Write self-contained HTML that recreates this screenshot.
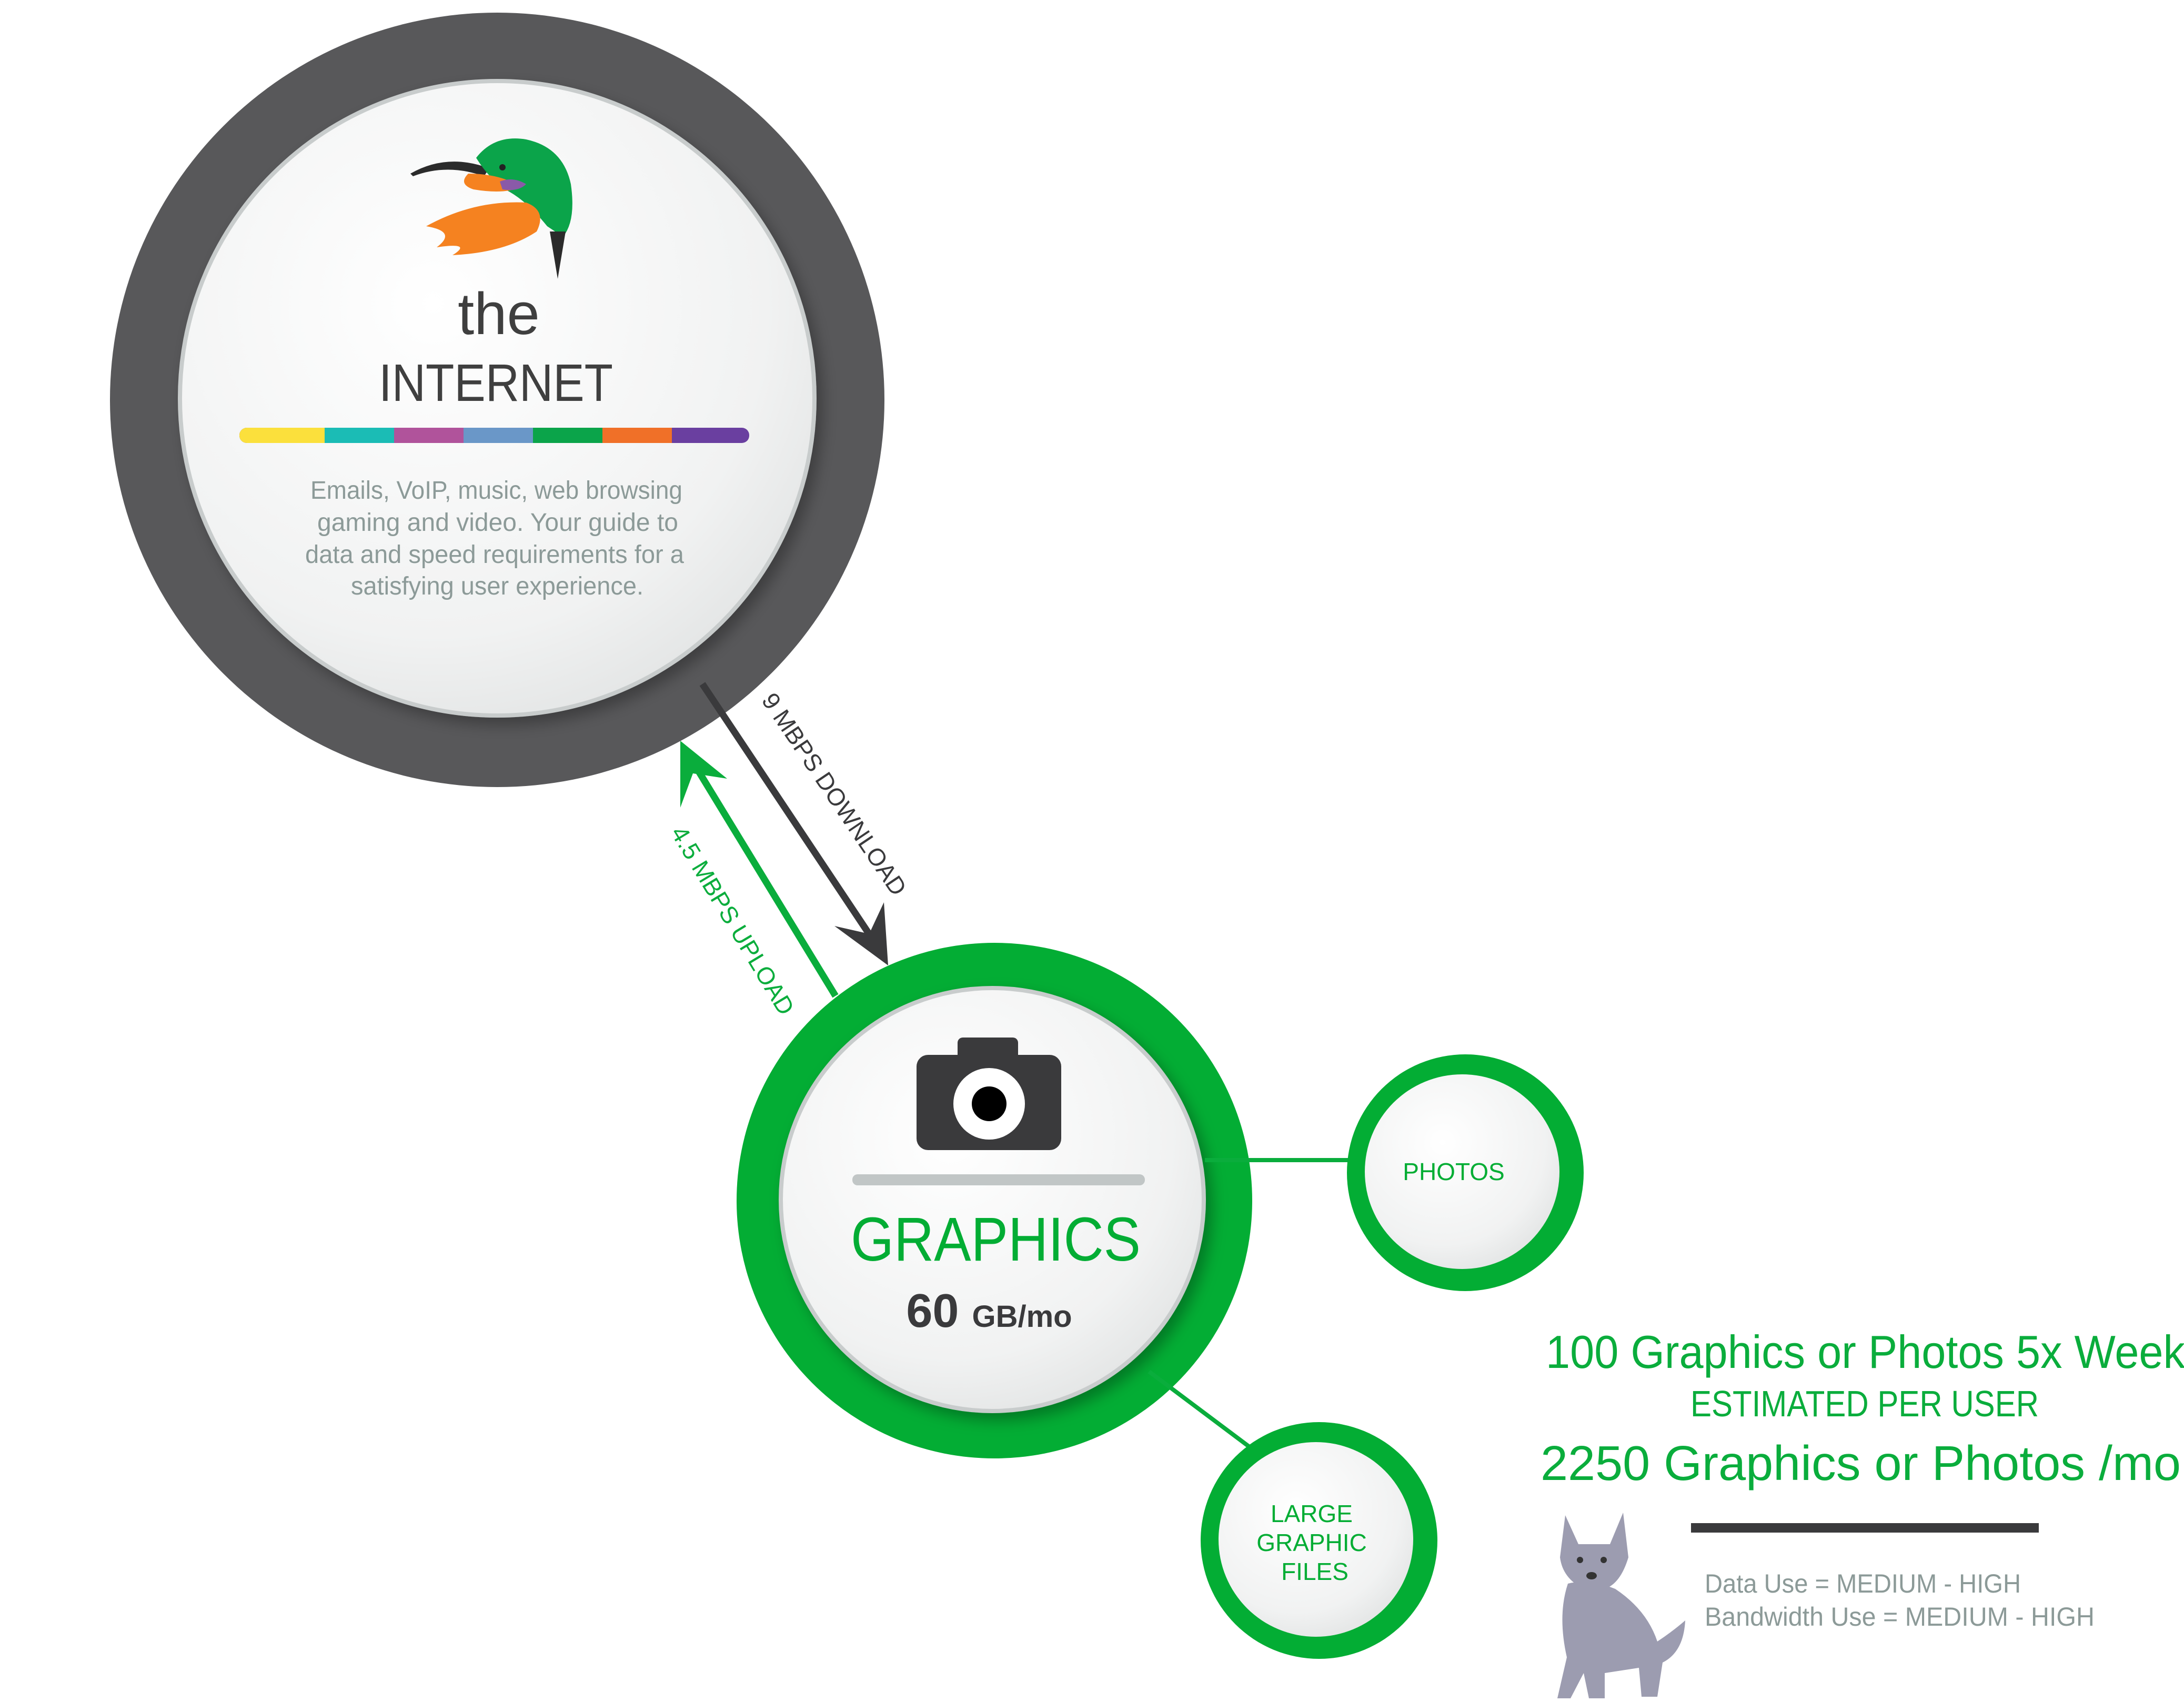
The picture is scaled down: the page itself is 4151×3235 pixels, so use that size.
<!DOCTYPE html>
<html><head><meta charset="utf-8"><style>
html,body{margin:0;padding:0;background:#fff;}
svg{display:block;}
text{font-family:"Liberation Sans",sans-serif;}
</style></head><body>
<svg width="4151" height="3235" viewBox="0 0 4151 3235" xmlns="http://www.w3.org/2000/svg">
<defs>
<radialGradient id="g1" cx="0.4" cy="0.35" r="0.75">
<stop offset="0" stop-color="#ffffff"/><stop offset="0.7" stop-color="#f1f2f2"/><stop offset="1" stop-color="#dfe1e1"/>
</radialGradient>
<filter id="sh" x="-20%" y="-20%" width="140%" height="140%"><feDropShadow dx="12" dy="14" stdDeviation="14" flood-color="#000" flood-opacity="0.3"/></filter>
</defs>

<!-- Internet circle -->
<circle cx="945" cy="760" r="736" fill="#58585a"/>
<circle cx="945" cy="757" r="603" fill="url(#g1)" stroke="#c8cccc" stroke-width="8" filter="url(#sh)"/>

<!-- bird -->
<g>
<path d="M780 330 Q850 290 930 320 L920 335 Q850 310 785 335 Z" fill="#2b2b2b"/>
<path d="M905 300 Q940 255 1000 265 Q1070 280 1085 350 Q1095 420 1070 450 L1040 430 Q1000 380 960 360 Q930 340 905 300 Z" fill="#0ba44a"/>
<path d="M890 330 Q950 330 990 355 Q960 370 900 360 Q870 350 890 330 Z" fill="#f58220"/>
<path d="M810 430 Q900 380 1000 385 Q1040 400 1020 440 Q960 480 860 485 Q900 460 830 470 Q870 440 810 430 Z" fill="#f58220"/>
<path d="M950 345 Q975 335 1000 350 Q985 365 955 360 Z" fill="#8a5aa8"/>
<path d="M1045 440 L1060 530 L1075 440 Z" fill="#2b2b2b"/>
<circle cx="955" cy="318" r="6" fill="#222"/>
</g>

<text x="948" y="635" font-size="112" fill="#3f3f3f" text-anchor="middle">the</text>
<text x="720" y="762" font-size="100" fill="#3f3f3f" textLength="445" lengthAdjust="spacingAndGlyphs">INTERNET</text>

<!-- colour bar -->
<rect x="455" y="813" width="969" height="29" rx="14" fill="#6a3fa0"/>
<rect x="455" y="813" width="170" height="29" rx="14" fill="#fbe03c"/>
<rect x="470" y="813" width="155" height="29" fill="#fbe03c"/>
<rect x="617" y="813" width="132" height="29" fill="#1bbcb5"/>
<rect x="749" y="813" width="132" height="29" fill="#b0539b"/>
<rect x="881" y="813" width="132" height="29" fill="#6a97c8"/>
<rect x="1013" y="813" width="132" height="29" fill="#0ba44a"/>
<rect x="1145" y="813" width="132" height="29" fill="#f07028"/>

<g font-size="48" fill="#8c9a98" lengthAdjust="spacingAndGlyphs">
<text x="590" y="948" textLength="707" lengthAdjust="spacingAndGlyphs">Emails, VoIP, music, web browsing</text>
<text x="603" y="1009" textLength="686" lengthAdjust="spacingAndGlyphs">gaming and video. Your guide to</text>
<text x="580" y="1070" textLength="720" lengthAdjust="spacingAndGlyphs">data and speed requirements for a</text>
<text x="667" y="1130" textLength="556" lengthAdjust="spacingAndGlyphs">satisfying user experience.</text>
</g>

<!-- arrows -->
<line x1="1335" y1="1300" x2="1665" y2="1795" stroke="#3a3a3c" stroke-width="13"/>
<polygon points="1688,1835 1586,1760 1652,1775 1680,1715" fill="#3a3a3c"/>
<line x1="1588" y1="1893" x2="1315" y2="1445" stroke="#0aad3c" stroke-width="13"/>
<polygon points="1293,1408 1293,1535 1317,1470 1382,1480" fill="#0aad3c"/>
<text transform="translate(1585,1510) rotate(56)" font-size="46" fill="#3a3a3c" text-anchor="middle" dy="15">9 MBPS DOWNLOAD</text>
<text transform="translate(1392,1750) rotate(59)" font-size="46" fill="#0aad3c" text-anchor="middle" dy="15">4.5 MBPS UPLOAD</text>

<!-- Graphics circle -->
<circle cx="1890" cy="2282" r="490" fill="#03ad34"/>
<circle cx="1886" cy="2280" r="402" fill="url(#g1)" stroke="#c8cccc" stroke-width="8" filter="url(#sh)"/>
<!-- connectors -->
<line x1="2290" y1="2205" x2="2581" y2="2205" stroke="#0aad3c" stroke-width="8"/>
<line x1="2184" y1="2607" x2="2396" y2="2766" stroke="#0aad3c" stroke-width="8"/>
<!-- camera -->
<rect x="1820" y="1972" width="115" height="45" rx="10" fill="#3a3a3c"/>
<rect x="1742" y="2005" width="275" height="181" rx="22" fill="#3a3a3c"/>
<circle cx="1880" cy="2098" r="68" fill="#fff"/>
<circle cx="1880" cy="2098" r="33" fill="#000"/>
<rect x="1620" y="2232" width="556" height="21" rx="10" fill="#c1c6c6"/>
<text x="1617" y="2396" font-size="118" fill="#03ad34" textLength="551" lengthAdjust="spacingAndGlyphs">GRAPHICS</text>
<text x="1880" y="2522" font-size="90" fill="#3a3a3c" text-anchor="middle" font-weight="bold">60 <tspan font-size="58">GB/mo</tspan></text>

<!-- Photos -->
<circle cx="2785" cy="2229" r="225" fill="#03ad34"/>
<circle cx="2779" cy="2227" r="185" fill="url(#g1)"/>
<text x="2763" y="2243" font-size="46" fill="#03ad34" text-anchor="middle">PHOTOS</text>

<!-- Large -->
<circle cx="2507" cy="2928" r="225" fill="#03ad34"/>
<circle cx="2501" cy="2926" r="185" fill="url(#g1)"/>
<g font-size="46" fill="#03ad34" text-anchor="middle">
<text x="2493" y="2893">LARGE</text>
<text x="2493" y="2948">GRAPHIC</text>
<text x="2499" y="3003">FILES</text>
</g>

<!-- right text -->
<text x="2938" y="2600" font-size="88" fill="#0aad3c" textLength="1215" lengthAdjust="spacingAndGlyphs">100 Graphics or Photos 5x Week</text>
<text x="3213" y="2692" font-size="70" fill="#0aad3c" textLength="662" lengthAdjust="spacingAndGlyphs">ESTIMATED PER USER</text>
<text x="2928" y="2813" font-size="93" fill="#0aad3c" textLength="1217" lengthAdjust="spacingAndGlyphs">2250 Graphics or Photos /mo</text>
<rect x="3214" y="2895" width="661" height="18" fill="#3a3a3c"/>
<text x="3240" y="3027" font-size="50" fill="#8c9a98" textLength="601" lengthAdjust="spacingAndGlyphs">Data Use = MEDIUM - HIGH</text>
<text x="3240" y="3090" font-size="50" fill="#8c9a98" textLength="741" lengthAdjust="spacingAndGlyphs">Bandwidth Use = MEDIUM - HIGH</text>

<!-- wolf -->
<g fill="#9c9cb0">
<path d="M2975 2880 L3000 2935 L3060 2935 L3085 2875 L3095 2960 Q3080 3010 3050 3020 L3010 3020 Q2970 3000 2965 2960 Z"/>
<path d="M2980 3010 Q3020 3000 3070 3020 Q3130 3060 3150 3120 Q3180 3100 3203 3080 Q3200 3140 3160 3160 L3150 3225 L3120 3225 L3115 3170 L3050 3180 L3050 3228 L3020 3228 L3010 3180 L2985 3228 L2960 3228 L2978 3150 Q2960 3070 2980 3010 Z"/>
</g>
<circle cx="3003" cy="2965" r="6" fill="#333"/>
<circle cx="3048" cy="2965" r="6" fill="#333"/>
<ellipse cx="3025" cy="2995" rx="10" ry="7" fill="#333"/>
</svg>
</body></html>
